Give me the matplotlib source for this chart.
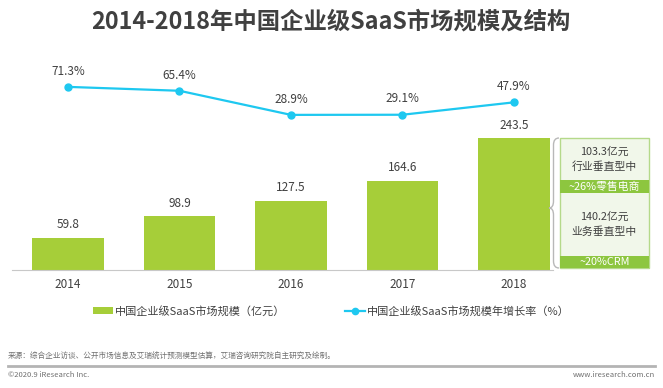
import matplotlib
matplotlib.use("Agg")
import matplotlib.pyplot as plt
import matplotlib.patches as mpatches
from matplotlib.path import Path
import numpy as np

plt.rcParams['font.family'] = ['Noto Sans CJK SC', 'DejaVu Sans']

years = ["2014", "2015", "2016", "2017", "2018"]
market_size = [59.8, 98.9, 127.5, 164.6, 243.5]
growth_rate = [71.3, 65.4, 28.9, 29.1, 47.9]
split_values = ["103.3亿元\n行业垂直型中", "140.2亿元\n业务垂直型中"]
split_notes = ["~26%零售电商", "~20%CRM"]

BAR = "#a6ce39"
LINE = "#1ec8f0"
BAND = "#8dc63f"
INK = "#404040"
W, H = 663, 388

fig = plt.figure(figsize=(W / 100, H / 100), dpi=100)

def px(x0, y0, x1, y1):
    # pixel box (top-left origin) -> figure fraction rect
    return [x0 / W, 1 - y1 / H, (x1 - x0) / W, (y1 - y0) / H]

ax = fig.add_axes(px(12, 60, 553, 270))
x = np.arange(len(years))
ax.bar(x, market_size, width=0.64, color=BAR, zorder=2)
for xi, v in zip(x, market_size):
    ax.text(xi, v + 12, f"{v:.1f}", ha="center", va="bottom", fontsize=8.5, color=INK)
ax.set_xlim(-0.502, 4.35)
ax.set_ylim(0, 387.5)
for s in ("top", "right", "left"):
    ax.spines[s].set_visible(False)
ax.spines["bottom"].set_color("#c8c8c8")
ax.set_yticks([])
ax.set_xticks(x)
ax.set_xticklabels(years, fontsize=8.5, color=INK)
ax.tick_params(axis="x", length=0, pad=6)

ax2 = ax.twinx()
ax2.plot(x, growth_rate, color=LINE, lw=1.6, marker="o", ms=5, zorder=3)
for xi, v in zip(x, growth_rate):
    ax2.text(xi, v + 14, f"{v:.1f}%", ha="center", va="bottom", fontsize=8.5, color=INK)
ax2.set_ylim(-206, 112)
ax2.set_yticks([])
for s in ax2.spines.values():
    s.set_visible(False)

# overlay in pixel coordinates
ov = fig.add_axes([0, 0, 1, 1])
ov.set_xlim(0, W)
ov.set_ylim(H, 0)
ov.set_axis_off()
ov.patch.set_alpha(0)

ov.text(331, 22, "2014-2018年中国企业级SaaS市场规模及结构", ha="center", va="center",
        fontsize=16.8, fontweight="bold", color=INK)

# right-side structure box
bx0, bx1 = 560, 649
ov.add_patch(mpatches.Rectangle((bx0, 138), bx1 - bx0, 130, facecolor="#f1f7ea",
                                edgecolor="#b5d98a", lw=1))
ov.add_patch(mpatches.Rectangle((bx0, 180), bx1 - bx0, 13, facecolor=BAND, edgecolor="none"))
ov.add_patch(mpatches.Rectangle((bx0, 255.5), bx1 - bx0, 12.5, facecolor=BAND, edgecolor="none"))
ov.text((bx0 + bx1) / 2, 159, split_values[0], ha="center", va="center", fontsize=7.8,
        color=INK, linespacing=1.5)
ov.text((bx0 + bx1) / 2, 186.5, split_notes[0], ha="center", va="center", fontsize=7.8, color="white")
ov.text((bx0 + bx1) / 2, 224, split_values[1], ha="center", va="center", fontsize=7.8,
        color=INK, linespacing=1.5)
ov.text((bx0 + bx1) / 2, 261.8, split_notes[1], ha="center", va="center", fontsize=7.8, color="white")

# curly brace (tip pointing left)
top, bot, mid, xr, xm, xt = 138, 268, 208, 559, 553.5, 549
verts = [(xr, top), (xm, top), (xm, top + 7),
         (xm, mid - 7),
         (xm, mid), (xt, mid),
         (xm, mid), (xm, mid + 7),
         (xm, bot - 7),
         (xm, bot), (xr, bot)]
codes = [Path.MOVETO, Path.CURVE3, Path.CURVE3,
         Path.LINETO,
         Path.CURVE3, Path.CURVE3,
         Path.CURVE3, Path.CURVE3,
         Path.LINETO,
         Path.CURVE3, Path.CURVE3]
ov.add_patch(mpatches.PathPatch(Path(verts, codes), facecolor="none", edgecolor="#b8b8b8", lw=1))

# legend
ov.add_patch(mpatches.Rectangle((93, 307), 20, 7, facecolor=BAR, edgecolor="none"))
ov.text(115, 311, "中国企业级SaaS市场规模（亿元）", ha="left", va="center", fontsize=8, color=INK)
ov.plot([345, 365], [311, 311], color=LINE, lw=1.6)
ov.plot([355], [311], marker="o", color=LINE, ms=4.5)
ov.text(367, 311, "中国企业级SaaS市场规模年增长率（%）", ha="left", va="center", fontsize=8, color=INK)

# footer
ov.text(8, 357, "来源：综合企业访谈、公开市场信息及艾瑞统计预测模型估算，艾瑞咨询研究院自主研究及绘制。",
        ha="left", va="center", fontsize=5.5, color="#707070")
ov.plot([8, 655], [366, 366], color="#b4b4b4", lw=2)
ov.text(8, 375, "©2020.9 iResearch Inc.", ha="left", va="center", fontsize=5.5, color="#707070")
ov.text(655, 375, "www.iresearch.com.cn", ha="right", va="center", fontsize=5.5, color="#707070")

fig.savefig("out.png", dpi=100)
